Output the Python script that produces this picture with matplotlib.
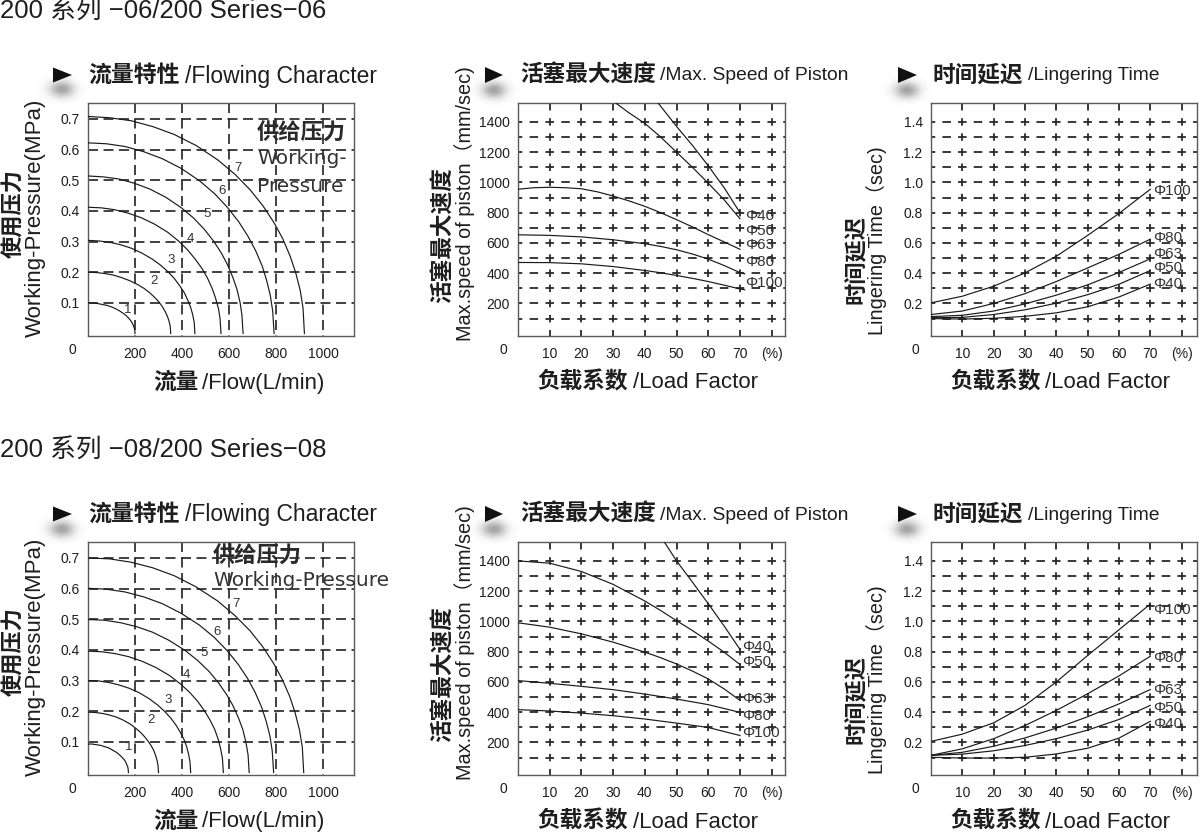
import numpy as np
import matplotlib
matplotlib.use("Agg")
import matplotlib.pyplot as plt
from matplotlib import font_manager
from matplotlib.patches import Polygon

# ---------------- data ----------------
curve_names = ["1", "2", "3", "4", "5", "6", "7"]
bore_names = ["Φ40", "Φ50", "Φ63", "Φ80", "Φ100"]
load_x = [0, 10, 20, 30, 40, 50, 60, 70]

# Series-06 flow characteristic (flow L/min, pressure MPa)
flow06_q = [
    [0, 20, 40, 60, 80, 100, 120, 136, 150, 162, 172, 180, 187, 192, 196, 199, 200],
    [0, 35, 70, 106, 141, 176, 211, 239, 264, 285, 303, 317, 329, 338, 345, 350, 352],
    [0, 46, 91, 137, 182, 228, 273, 309, 341, 369, 391, 410, 425, 437, 446, 452, 455],
    [0, 57, 113, 170, 226, 283, 340, 385, 425, 458, 487, 509, 529, 543, 555, 562, 566],
    [0, 66, 132, 198, 264, 330, 396, 449, 495, 535, 568, 594, 617, 634, 647, 655, 660],
    [0, 79, 158, 238, 317, 396, 475, 539, 594, 642, 681, 713, 741, 760, 776, 786, 792],
    [0, 92, 184, 276, 368, 461, 553, 626, 691, 746, 792, 829, 861, 884, 903, 915, 921],
]
flow06_p = [
    [.100, .100, .098, .095, .092, .087, .080, .073, .066, .059, .051, .044, .036, .028, .020, .012, 0],
    [.200, .199, .196, .191, .183, .173, .160, .147, .132, .117, .102, .087, .071, .056, .040, .024, 0],
    [.304, .302, .298, .290, .279, .263, .243, .223, .201, .178, .155, .133, .108, .085, .060, .036, 0],
    [.412, .410, .404, .393, .378, .357, .330, .302, .272, .241, .210, .180, .146, .115, .082, .049, 0],
    [.514, .511, .504, .490, .471, .445, .411, .377, .340, .301, .262, .224, .182, .144, .102, .061, 0],
    [.622, .619, .610, .593, .570, .539, .498, .456, .411, .364, .317, .271, .221, .174, .124, .073, 0],
    [.708, .704, .694, .675, .649, .613, .566, .519, .468, .415, .361, .309, .251, .198, .141, .084, 0],
]
# Series-08 flow characteristic
flow08_q = [
    [0, 17, 34, 52, 69, 86, 103, 117, 129, 139, 148, 155, 161, 165, 169, 171, 172],
    [0, 30, 60, 90, 120, 150, 180, 204, 225, 243, 258, 270, 281, 288, 294, 298, 300],
    [0, 44, 87, 131, 175, 219, 262, 297, 328, 354, 376, 393, 409, 420, 428, 434, 437],
    [0, 58, 115, 173, 230, 288, 346, 392, 432, 467, 495, 518, 539, 553, 564, 572, 576],
    [0, 69, 137, 206, 274, 343, 412, 466, 515, 556, 590, 617, 641, 659, 672, 681, 686],
    [0, 79, 158, 237, 316, 395, 474, 537, 593, 640, 679, 711, 739, 758, 774, 784, 790],
    [0, 92, 184, 275, 367, 459, 551, 624, 689, 744, 789, 826, 858, 881, 900, 912, 918],
]
flow08_p = [
    [.093, .093, .091, .089, .085, .081, .074, .068, .061, .054, .047, .041, .033, .026, .019, .011, 0],
    [.197, .196, .193, .188, .181, .171, .158, .144, .130, .115, .100, .086, .070, .055, .039, .023, 0],
    [.300, .299, .294, .286, .275, .260, .240, .220, .198, .176, .153, .131, .107, .084, .060, .035, 0],
    [.396, .394, .388, .378, .363, .343, .317, .290, .262, .232, .202, .173, .141, .111, .079, .047, 0],
    [.499, .497, .489, .476, .458, .432, .399, .366, .330, .292, .254, .218, .177, .140, .099, .059, 0],
    [.601, .598, .589, .573, .551, .520, .481, .441, .397, .352, .307, .262, .213, .168, .120, .071, 0],
    [.700, .697, .686, .668, .642, .606, .560, .513, .463, .410, .357, .305, .249, .196, .139, .083, 0],
]

# Max speed of piston (load factor %, mm/sec), order Φ40..Φ100
speed06_x = [
    [44, 50, 55, 60, 65, 70],
    [30.5, 35, 40, 45, 50, 55, 60, 65, 70],
    [0, 5, 10, 15, 20, 25, 30, 35, 40, 45, 50, 55, 60, 65, 70],
    [0, 10, 20, 30, 40, 45, 50, 55, 60, 65, 70, 71.5],
    [0, 10, 20, 30, 40, 45, 50, 55, 60, 65, 70, 71.5],
]
speed06_y = [
    [1530, 1370, 1245, 1110, 965, 800],
    [1530, 1460, 1390, 1300, 1200, 1100, 995, 885, 760],
    [955, 965, 968, 965, 958, 938, 910, 878, 842, 800, 754, 706, 655, 607, 558],
    [654, 650, 640, 621, 595, 577, 555, 527, 493, 451, 404, 395],
    [471, 470, 462, 444, 418, 403, 385, 366, 345, 321, 296, 290],
]
speed08_x = [
    [46, 50, 55, 60, 65, 70],
    [0, 10, 20, 30, 40, 45, 50, 55, 60, 65, 70],
    [0, 10, 20, 30, 40, 45, 50, 55, 60, 65, 70],
    [0, 10, 20, 30, 40, 50, 60, 70],
    [0, 10, 20, 30, 40, 50, 60, 70],
]
speed08_y = [
    [1530, 1400, 1260, 1117, 970, 815],
    [1400, 1385, 1330, 1245, 1135, 1072, 1005, 940, 870, 797, 715],
    [991, 962, 918, 863, 797, 760, 719, 672, 620, 554, 478],
    [609, 591, 571, 549, 520, 487, 450, 399],
    [417, 408, 394, 377, 355, 328, 299, 246],
]

# Lingering time (load factor %, sec), order Φ40..Φ100
linger06 = [
    [.100, .097, .102, .115, .138, .178, .243, .328],
    [.106, .108, .127, .158, .202, .258, .327, .418],
    [.113, .122, .150, .197, .255, .323, .405, .495],
    [.127, .150, .200, .265, .345, .435, .525, .625],
    [.204, .248, .314, .402, .512, .650, .795, .955],
]
linger08 = [
    [.102, .097, .097, .102, .124, .162, .229, .340],
    [.115, .123, .145, .180, .225, .282, .352, .445],
    [.115, .135, .175, .230, .295, .370, .455, .550],
    [.115, .158, .225, .312, .412, .522, .640, .770],
    [.207, .255, .330, .445, .600, .775, .945, 1.115],
]

flow_ticks = [200, 400, 600, 800, 1000]
press_ticks = [0.1, 0.2, 0.3, 0.4, 0.5, 0.6, 0.7]
load_ticks = [10, 20, 30, 40, 50, 60, 70, 80]
load_ticklabels = ["10", "20", "30", "40", "50", "60", "70", "(%)"]
speed_ticks = [200, 400, 600, 800, 1000, 1200, 1400]
time_ticks = [0.2, 0.4, 0.6, 0.8, 1.0, 1.2, 1.4]
time_ticklabels = ["0.2", "0.4", "0.6", "0.8", "1.0", "1.2", "1.4"]

# ---------------- layout / style ----------------
W, H, DPI = 1200, 834, 100
PT = 72.0 / DPI
plt.rcParams['lines.scale_dashes'] = False
plt.rcParams['font.family'] = ['Liberation Sans', 'Noto Sans CJK SC', 'DejaVu Sans']

names = {f.name for f in font_manager.fontManager.ttflist}
HAS_NARROW = 'Liberation Sans Narrow' in names
NARROW = ['Liberation Sans Narrow' if HAS_NARROW else 'Liberation Sans', 'Noto Sans CJK SC', 'DejaVu Sans']
NS = 1.0 if HAS_NARROW else 0.84
LAT = ['Liberation Sans', 'Noto Sans CJK SC', 'DejaVu Sans']
CJK = ['Noto Sans CJK SC', 'DejaVu Sans']
WIDE = ['DejaVu Sans', 'Noto Sans CJK SC']

TXT = '#1e1e1e'
GRID = '#2a2a2a'
LINE = '#1a1a1a'

fig = plt.figure(figsize=(W / DPI, H / DPI), dpi=DPI)
fig.patch.set_facecolor('white')


def ftext(x, y, s, size, family=LAT, weight='normal', ha='left', rot=0, color=TXT):
    fig.text(x / W, 1 - y / H, s, fontsize=size, family=family, weight=weight,
             ha=ha, va='center', rotation=rot, color=color)


def make_axes(l, t, r, b):
    ax = fig.add_axes([l / W, 1 - b / H, (r - l) / W, (b - t) / H])
    for sp in ax.spines.values():
        sp.set_color('#5a5a5a')
        sp.set_linewidth(1.0)
    ax.tick_params(length=0, labelsize=10, colors=TXT)
    return ax


def dline(ax, p0, p1, horizontal, period, dash_px, center0):
    if horizontal:
        lo, hi = ax.get_xlim()
        ppu = ax.bbox.width / (hi - lo)
    else:
        lo, hi = ax.get_ylim()
        ppu = ax.bbox.height / (hi - lo)
    per = period * ppu
    start = p0[0] if horizontal else p0[1]
    phase = ((start - center0) * ppu + dash_px / 2.0) % per
    ax.plot([p0[0], p1[0]], [p0[1], p1[1]], color=GRID, lw=1.3,
            linestyle=(phase * PT, (dash_px * PT, (per - dash_px) * PT)),
            dash_capstyle='butt', zorder=1)


def plain_dash(ax, xs, ys):
    ax.plot(xs, ys, color=GRID, lw=1.25, linestyle=(0, (10 * PT, 5.5 * PT)),
            dash_capstyle='butt', zorder=1)


def arrow(x0, x1, yc, half):
    tri = Polygon([[x0 / W, 1 - (yc - half) / H], [x0 / W, 1 - (yc + half) / H],
                   [x1 / W, 1 - yc / H]], closed=True, transform=fig.transFigure,
                  facecolor='#111111', edgecolor='none', zorder=5)
    fig.patches.append(tri)
    # soft shadow under the marker
    sw, sh = 52, 32
    cx, cy = x0 + 9, yc + half + 7
    sax = fig.add_axes([(cx - sw / 2) / W, 1 - (cy + sh / 2) / H, sw / W, sh / H], zorder=-1)
    yy, xx = np.mgrid[-1:1:60j, -1:1:96j]
    a = np.exp(-(xx ** 2 / 0.22 + yy ** 2 / 0.26))
    img = np.zeros((60, 96, 4))
    img[..., :3] = 0.40
    img[..., 3] = a * 0.6
    sax.imshow(img, aspect='auto', interpolation='bilinear')
    sax.axis('off')


def flow_panel(ax, qs, ps, lab_q, lab_p):
    ax.set_xlim(0, 1132)
    ax.set_ylim(-0.008, 0.752)
    for y in press_ticks:
        plain_dash(ax, [0, 1132], [y, y])
    for x in flow_ticks:
        plain_dash(ax, [x, x], [0.752, -0.008])
    for q, p in zip(qs, ps):
        ax.plot(q, p, color=LINE, lw=0.85, zorder=3)
    for name, lq, lp in zip(curve_names, lab_q, lab_p):
        ax.text(lq, lp, name, fontsize=9.5, color='#333333', ha='center', va='center', zorder=4)
    ax.set_xticks(flow_ticks)
    ax.set_xticklabels([str(v) for v in flow_ticks])
    ax.set_yticks(press_ticks)
    ax.set_yticklabels(["%.1f" % v for v in press_ticks])
    ax.tick_params(axis='x', pad=8)
    ax.tick_params(axis='y', pad=6)


def grid_load(ax, xmax, ylo, yhi, hstep, hvals):
    for y in hvals:
        dline(ax, (0, y), (xmax, y), True, 5.0, 8.5, 0.0)
    for x in load_ticks:
        dline(ax, (x, ylo), (x, yhi), False, hstep, 7.5, 0.0)


def speed_panel(ax, xs, ys, lab_x, lab_y):
    ax.set_xlim(0, 84.2)
    ax.set_ylim(-15, 1525)
    grid_load(ax, 84.2, -15, 1525, 100, list(range(100, 1500, 100)))
    for x, y in zip(xs, ys):
        ax.plot(x, y, color=LINE, lw=0.85, zorder=3)
    for name, ly in zip(bore_names, lab_y):
        ax.text(lab_x, ly, name, fontsize=11, color='#333333', ha='left', va='center', zorder=4)
    ax.set_xticks(load_ticks)
    ax.set_xticklabels(load_ticklabels)
    ax.set_yticks(speed_ticks)
    ax.set_yticklabels([str(v) for v in speed_ticks])
    ax.tick_params(axis='x', pad=8)
    ax.tick_params(axis='y', pad=6)


def linger_panel(ax, ys, lab_x, lab_y):
    ax.set_xlim(0, 84.9)
    ax.set_ylim(-0.015, 1.525)
    grid_load(ax, 84.9, -0.015, 1.525, 0.1, [i / 10 for i in range(1, 15)])
    for y in ys:
        ax.plot(load_x, y, color=LINE, lw=0.85, zorder=3)
    for name, ly in zip(bore_names, lab_y):
        ax.text(lab_x, ly, name, fontsize=11, color='#333333', ha='left', va='center', zorder=4)
    ax.set_xticks(load_ticks)
    ax.set_xticklabels(load_ticklabels)
    ax.set_yticks(time_ticks)
    ax.set_yticklabels(time_ticklabels)
    ax.tick_params(axis='x', pad=8)
    ax.tick_params(axis='y', pad=6)


series = [
    (0, "06", flow06_q, flow06_p, speed06_x, speed06_y, linger06,
     [170, 282, 354, 436, 508, 572, 639], [0.078, 0.172, 0.240, 0.310, 0.391, 0.466, 0.541],
     71.5, [776, 677, 584, 471, 334], 71.0, [0.33, 0.435, 0.53, 0.633, 0.942]),
    (439, "08", flow08_q, flow08_p, speed08_x, speed08_y, linger08,
     [172, 268, 339, 419, 493, 548, 629], [0.084, 0.171, 0.236, 0.318, 0.390, 0.457, 0.549],
     70.7, [830, 730, 487, 377, 260], 70.8, [0.322, 0.429, 0.547, 0.756, 1.078]),
]

for (dy, code, fq, fp, sx, sy, lg, lq, lp, spx, spy, lgx, lgy) in series:
    # series heading
    ftext(0, 12 + dy, "200 系列 −%s/200 Series−%s" % (code, code), 18.5, family=LAT)

    # panel headings
    arrow(53, 72, 75 + dy, 7.5)
    ftext(88, 75 + dy, "流量特性", 16.5, family=CJK, weight='bold')
    ftext(185, 76 + dy, "/Flowing Character", 16.5, family=LAT)
    arrow(485, 503, 75 + dy, 8)
    ftext(520, 75 + dy, "活塞最大速度", 16.3, family=CJK, weight='bold')
    ftext(660, 76 + dy, "/Max. Speed of Piston", 16.5 * NS, family=NARROW)
    arrow(898, 917, 75 + dy, 8)
    ftext(933, 75 + dy, "时间延迟", 16.3, family=CJK, weight='bold')
    ftext(1028, 76 + dy, "/Lingering Time", 16.5 * NS, family=NARROW)

    # panels
    ax1 = make_axes(88, 103 + dy, 354, 336 + dy)
    flow_panel(ax1, fq, fp, lq, lp)
    ax2 = make_axes(518, 103 + dy, 785, 336 + dy)
    speed_panel(ax2, sx, sy, spx, spy)
    ax3 = make_axes(931, 103 + dy, 1197, 336 + dy)
    linger_panel(ax3, lg, lgx, lgy)

    # corner zeros
    ftext(72, 350 + dy, "0", 10, ha='center')
    ftext(503, 350 + dy, "0", 10, ha='center')
    ftext(915, 350 + dy, "0", 10, ha='center')

    # axis titles
    ftext(14, 213 + dy, "使用压力", 16, family=CJK, weight='bold', ha='center', rot=90)
    ftext(35, 218 + dy, "Working-Pressure(MPa)", 16, family=LAT, ha='center', rot=90)
    ftext(153, 382 + dy, "流量", 16.3, family=CJK, weight='bold')
    ftext(202, 383 + dy, "/Flow(L/min)", 16, family=LAT)

    ftext(443, 235 + dy, "活塞最大速度", 16.3, family=CJK, weight='bold', ha='center', rot=90)
    ftext(465, 204 + dy, "Max.speed of piston（mm/sec)", 17 * NS, family=NARROW, ha='center', rot=90)
    ftext(537, 382 + dy, "负载系数", 16.3, family=CJK, weight='bold')
    ftext(633, 383 + dy, "/Load Factor", 16, family=LAT)

    ftext(856, 260 + dy, "时间延迟", 16, family=CJK, weight='bold', ha='center', rot=90)
    ftext(877, 241 + dy, "Lingering Time（sec)", 17 * NS, family=NARROW, ha='center', rot=90)
    ftext(950, 382 + dy, "负载系数", 16.3, family=CJK, weight='bold')
    ftext(1045, 383 + dy, "/Load Factor", 16, family=LAT)

# supply-pressure notes inside the flow panels
ftext(257, 133, "供给压力", 16, family=CJK, weight='bold', color='#2a2a2a')
ftext(257, 158, "Working-", 14.5, family=WIDE, color='#333333')
ftext(257, 186, "Pressure", 14.5, family=WIDE, color='#333333')
ftext(213, 556, "供给压力", 16, family=CJK, weight='bold', color='#2a2a2a')
ftext(213, 580, "Working-Pressure", 14.5, family=WIDE, color='#333333')

fig.savefig("out.png", dpi=DPI, facecolor='white')
